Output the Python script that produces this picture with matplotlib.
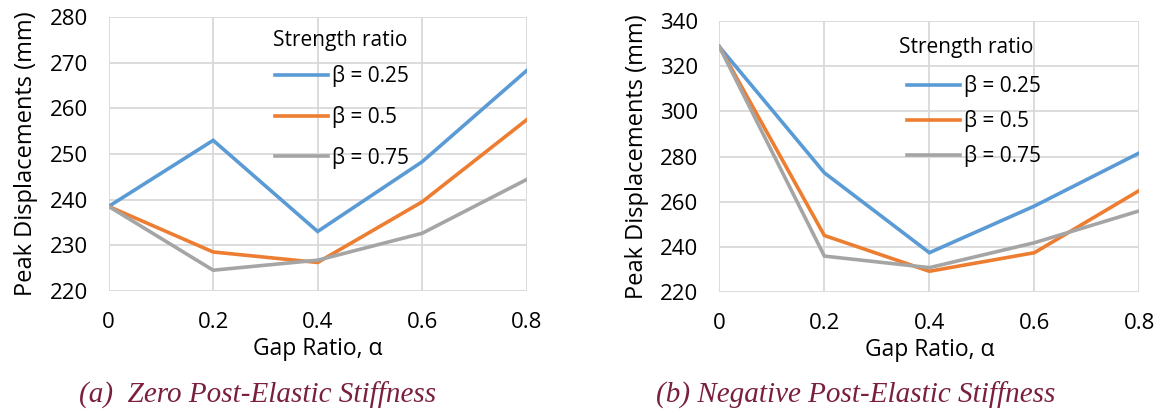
import numpy as np
import matplotlib.pyplot as plt

gap = [0, 0.2, 0.4, 0.6, 0.8]
labels = ['β = 0.25', 'β = 0.5', 'β = 0.75']
colors = ['#5B9BD5', '#ED7D31', '#A5A5A5']

# (a) zero post-elastic stiffness
zero_025 = [238.5, 253.0, 233.0, 248.3, 268.3]
zero_05 = [238.5, 228.5, 226.2, 239.5, 257.5]
zero_075 = [238.5, 224.5, 226.7, 232.6, 244.4]

# (b) negative post-elastic stiffness
neg_025 = [328.5, 272.8, 237.5, 258.1, 281.6]
neg_05 = [328.5, 245.1, 229.3, 237.5, 265.0]
neg_075 = [328.5, 236.0, 230.9, 241.9, 256.0]

plt.rcParams['font.family'] = ['Open Sans', 'DejaVu Sans']

fig = plt.figure(figsize=(11.61, 4.09), dpi=100)
ax1 = fig.add_axes([0.0936, 0.2892, 0.3600, 0.6685])
ax2 = fig.add_axes([0.6196, 0.2853, 0.3618, 0.6641])


def style(ax, series, ylim, yticks, leg_anchor, spacing, title_xy):
    for ys, lab, c in zip(series, labels, colors):
        ax.plot(gap, ys, color=c, lw=2.6, label=lab, solid_joinstyle='miter')
    ax.set_xlim(0, 0.8)
    ax.set_ylim(*ylim)
    ax.set_xticks(gap)
    ax.set_xticklabels(['0', '0.2', '0.4', '0.6', '0.8'])
    ax.set_yticks(yticks)
    ax.grid(True, color='#D9D9D9', lw=1.3)
    ax.set_axisbelow(True)
    for s in ax.spines.values():
        s.set_visible(False)
    ax.tick_params(length=0, labelsize=16, colors='#000000')
    ax.tick_params(axis='x', pad=15)
    ax.tick_params(axis='y', pad=15)
    ax.set_xlabel('Gap Ratio, α', fontsize=16.5, labelpad=3)
    ax.set_ylabel('Peak Displacements (mm)', fontsize=17, labelpad=8)
    ax.legend(loc='upper left', bbox_to_anchor=leg_anchor, frameon=False,
              fontsize=15, handlelength=2.55, handletextpad=0.2,
              labelspacing=spacing, borderpad=0, borderaxespad=0)
    ax.text(*title_xy, 'Strength ratio', transform=ax.transAxes, fontsize=15,
            ha='right', va='center')


style(ax1, [zero_025, zero_05, zero_075], (220, 280), np.arange(220, 281, 10),
      (0.398, 0.824), 0.89, (0.714, 0.915))
style(ax2, [neg_025, neg_05, neg_075], (220, 340), np.arange(220, 341, 20),
      (0.446, 0.80), 0.62, (0.747, 0.90))

cap = dict(fontsize=21, style='italic', color='#7A1F3D', family=['Liberation Serif', 'DejaVu Serif'],
           ha='center', va='center')
fig.text(0.2218, 0.034, '(a)  Zero Post-Elastic Stiffness', **cap)
fig.text(0.737, 0.034, '(b) Negative Post-Elastic Stiffness', **cap)

fig.savefig('out.png', dpi=100)
